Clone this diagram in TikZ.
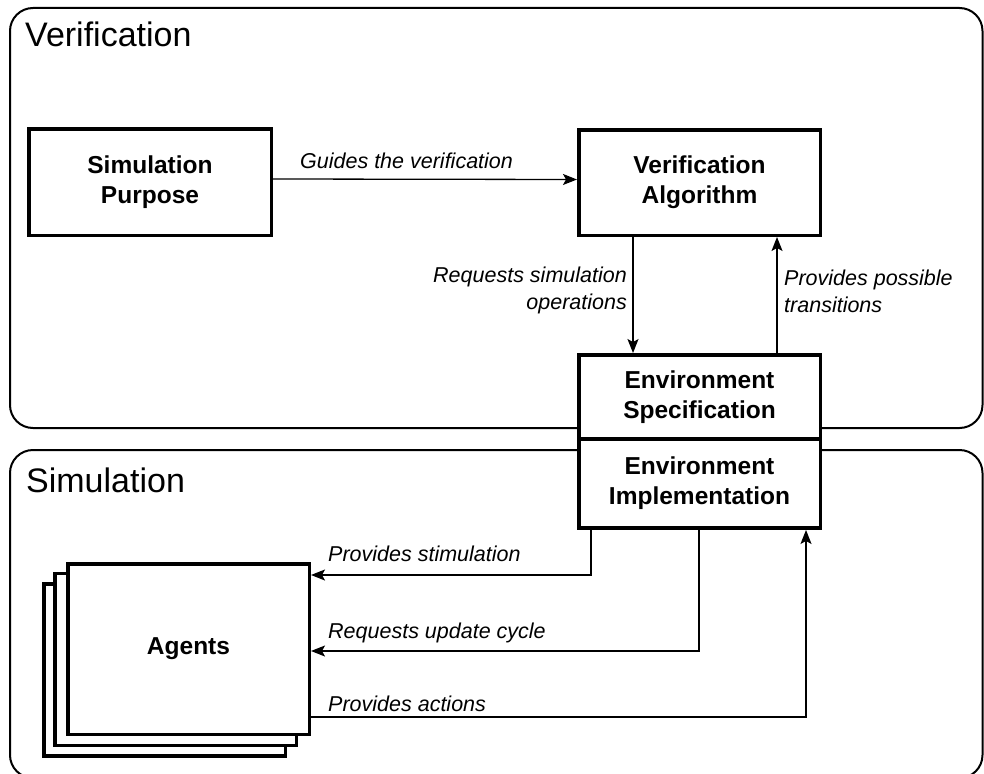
\documentclass[tikz,border=0pt]{standalone}
\usepackage{fontspec}
\setmainfont{Liberation Sans}
\usetikzlibrary{arrows.meta}
\begin{document}
\begin{tikzpicture}[x=1pt,y=-1pt,
  container/.style={draw, line width=2pt, rounded corners=23pt},
  title/.style={font=\fontsize{34}{40}\selectfont, inner sep=0, anchor=base west},
  box/.style={draw, line width=3.5pt, fill=white, align=center, inner sep=0,
    font=\bfseries\fontsize{24.5}{30}\selectfont},
  lbl/.style={font=\itshape\fontsize{21.5}{27}\selectfont, inner sep=0},
  conn/.style={line width=1.3pt, -{Stealth[length=14pt,width=11pt,inset=3pt]}},
  plain/.style={line width=1.3pt}
]
\useasboundingbox (0,0) rectangle (984,773);
\clip (0,0) rectangle (984,773);

% containers
\draw[container] (10,8) rectangle (982.5,428);
\draw[container] (10,450) rectangle (982.5,778);
\node[title] (vtitle) at (25,47) {Verification};
\node[title] (stitle) at (26,492) {Simulation};

% boxes
\node[box, minimum width=242.5pt, minimum height=106.5pt] (purpose) at (150,182) {Simulation\\Purpose};
\node[box, minimum width=241.5pt, minimum height=105.5pt] (algo) at (699.5,182.5) {Verification\\Algorithm};
\node[box, minimum width=241.5pt, minimum height=84.25pt] (spec) at (699.5,396.9) {Environment\\Specification};
\node[box, minimum width=241.5pt, minimum height=89.25pt] (impl) at (699.5,483.6) {Environment\\Implementation};

\node[box, minimum width=241.5pt, minimum height=172pt] (back) at (164.5,670) {};
\node[box, minimum width=241.5pt, minimum height=172pt] (middle) at (175.5,659.5) {};
\node[box, minimum width=241.5pt, minimum height=170.5pt] (agents) at (188.5,649) {Agents};

% connectors
\draw[conn] ([yshift=3pt]purpose.east) -- ([yshift=3pt]algo.west);
\node[lbl, anchor=base west] (l1) at (300,168) {Guides the verification};

\draw[conn] ([xshift=-66.5pt]algo.south) -- ([xshift=-66.5pt]spec.north);
\node[lbl, anchor=east, align=right] (l2) at (627,290) {Requests simulation\\operations};

\draw[conn] ([xshift=77.5pt]spec.north) -- ([xshift=77.5pt]algo.south);
\node[lbl, anchor=west, align=left] (l3) at (784,291) {Provides possible\\transitions};

\draw[conn] ([xshift=-108.5pt]impl.south) |- ([yshift=74pt]agents.east);
\node[lbl, anchor=base west] (l4) at (328,561) {Provides stimulation};

\draw[conn] ([xshift=-0.5pt]impl.south) |- ([yshift=-2pt]agents.east);
\node[lbl, anchor=base west] (l5) at (328,638) {Requests update cycle};

\draw[conn] ([yshift=-68pt]agents.east) -| ([xshift=106.5pt]impl.south);
\node[lbl, anchor=base west] (l6) at (328,711) {Provides actions};
\end{tikzpicture}
\end{document}
